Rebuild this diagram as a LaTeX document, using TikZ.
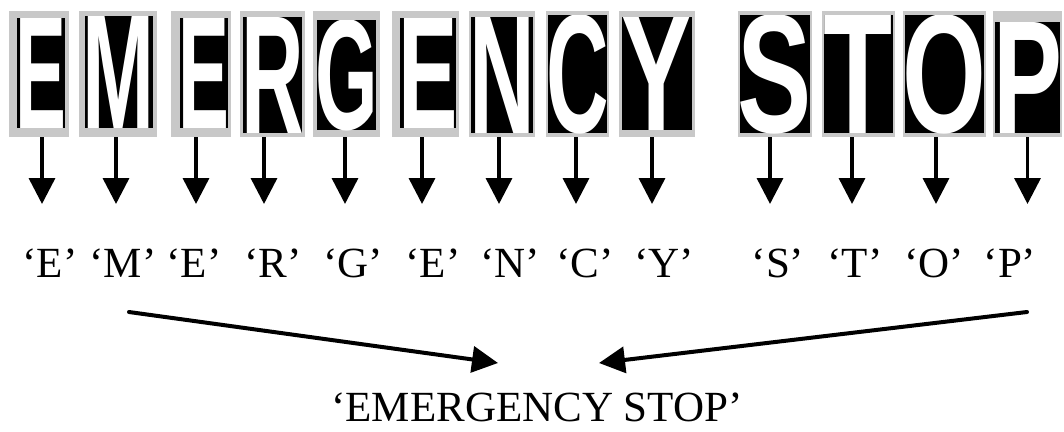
\documentclass[tikz,border=0pt]{standalone}
\usepackage{fontspec}
\setmainfont{Liberation Serif}
\newfontfamily\tilefont{Liberation Sans}
\usetikzlibrary{arrows.meta}
\definecolor{tilegray}{RGB}{200,200,200}
\tikzset{
  tilebox/.style={fill=tilegray, draw=none, inner sep=0pt, outer sep=0pt},
  arr/.style={line width=3.5pt, -{Triangle[length=26pt,width=26pt]}},
  lbl/.style={font=\fontsize{43}{50}\selectfont, anchor=base, inner sep=0pt},
}
% #1 name, #2 #3 outer x, #4 #5 inner x, #6 #7 inner y, #8 letter, #9 width factor
\newcommand{\lettertile}[9]{%
  \node[tilebox, minimum width={#3-#2}, minimum height=126] (#1) at ({(#2+#3)/2},74) {};
  \fill[black] (#4,#6) rectangle (#5,#7);
  \pgfmathsetmacro\tilew{(#5-#4)*#9}%
  \pgfmathsetmacro\tileh{#7-#6}%
  \begin{scope}
    \clip (#4,#6) rectangle (#5,#7);
    \node[text=white, inner sep=0pt] (#1L) at ({(#4+#5)/2},{(#6+#7)/2})
      {\resizebox{\tilew pt}{\tileh pt}{\tilefont\bfseries #8}};
  \end{scope}
}
\begin{document}
\begin{tikzpicture}[x=1pt,y=-1pt]
\useasboundingbox (0,0) rectangle (1064,431);
\fill[white] (0,0) rectangle (1064,431);

\lettertile{t1}{9}{69}{17}{65}{18}{128}{E}{1.06}
\lettertile{t2}{79}{157}{85}{153}{16}{128}{M}{1.06}
\lettertile{t3}{171}{231}{180}{228}{18}{128}{E}{1.06}
\lettertile{t4}{240}{305}{243}{302}{17}{133}{R}{1.06}
\lettertile{t5}{313}{380}{317}{376}{20}{130}{G}{1.06}
\lettertile{t6}{392}{459}{400}{456}{18}{128}{E}{1.06}
\lettertile{t7}{469}{535}{471}{533}{17}{133}{N}{1.06}
\lettertile{t8}{546}{609}{548}{607}{15}{133}{C}{1.06}
\lettertile{t9}{619}{695}{622}{692}{17}{130}{Y}{1.0}
\lettertile{t10}{738}{812}{740}{810}{15}{133}{S}{1.06}
\lettertile{t11}{822}{895}{824}{893}{15}{133}{T}{1.0}
\lettertile{t12}{903}{986}{905}{984}{15}{133}{O}{1.06}
\lettertile{t13}{993}{1062}{995}{1060}{22}{133}{P}{1.06}

% labels
\node[lbl] (l1) at (50,277) {‘E’};
\node[lbl] (l2) at (123,277) {‘M’};
\node[lbl] (l3) at (194,277) {‘E’};
\node[lbl] (l4) at (273,277) {‘R’};
\node[lbl] (l5) at (353,277) {‘G’};
\node[lbl] (l6) at (433,277) {‘E’};
\node[lbl] (l7) at (510,277) {‘N’};
\node[lbl] (l8) at (585,277) {‘C’};
\node[lbl] (l9) at (664,277) {‘Y’};
\node[lbl] (l10) at (778,277) {‘S’};
\node[lbl] (l11) at (855,277) {‘T’};
\node[lbl] (l12) at (934,277) {‘O’};
\node[lbl] (l13) at (1010,277) {‘P’};

\node[lbl] (final) at (537,421) {‘EMERGENCY STOP’};

% small arrows from tiles towards labels
\draw[arr] ([xshift=3pt]t1.south) -- ++(0,67);
\draw[arr] ([xshift=-2pt]t2.south) -- ++(0,67);
\draw[arr] ([xshift=-5pt]t3.south) -- ++(0,67);
\draw[arr] ([xshift=-8.5pt]t4.south) -- ++(0,67);
\draw[arr] ([xshift=-1.5pt]t5.south) -- ++(0,67);
\draw[arr] ([xshift=-3.5pt]t6.south) -- ++(0,67);
\draw[arr] ([xshift=-3pt]t7.south) -- ++(0,67);
\draw[arr] ([xshift=-1.5pt]t8.south) -- ++(0,67);
\draw[arr] ([xshift=-5pt]t9.south) -- ++(0,67);
\draw[arr] ([xshift=-5pt]t10.south) -- ++(0,67);
\draw[arr] ([xshift=-6.5pt]t11.south) -- ++(0,67);
\draw[arr] ([xshift=-8.5pt]t12.south) -- ++(0,67);
\draw[arr] ([xshift=0pt]t13.south) -- ++(0,67);

% converging arrows
\coordinate (ls) at (129,312);
\coordinate (lt) at (498,363);
\coordinate (rs) at (1027,312);
\coordinate (rt) at (599,363);
\draw[arr, line width=4pt, line cap=round] (ls) -- (lt);
\draw[arr, line width=4pt, line cap=round] (rs) -- (rt);
\end{tikzpicture}
\end{document}
